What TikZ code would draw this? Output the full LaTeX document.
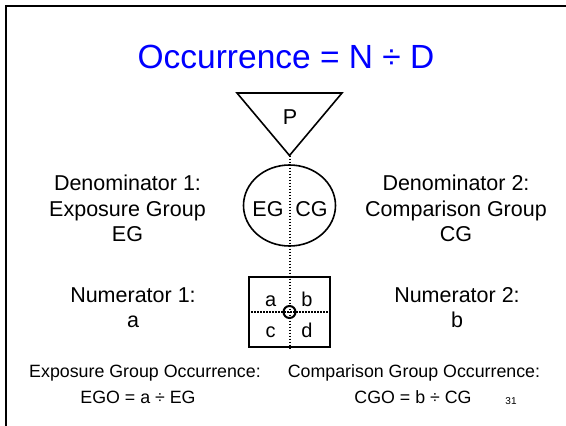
\documentclass[tikz,border=0pt]{standalone}
\usepackage{fontspec}
\setmainfont{Liberation Sans}
\usetikzlibrary{shapes.geometric}
\definecolor{titleblue}{RGB}{0,0,255}
\begin{document}
\begin{tikzpicture}[x=1pt,y=-1pt,
  shapeline/.style={draw=black,line width=1.6pt},
  dotline/.style={draw=black,line width=2pt,dash pattern=on 1.4pt off 1.6pt},
  sidetext/.style={inner sep=0pt,align=center,font=\fontsize{21.5}{25.5}\selectfont},
  celltext/.style={inner sep=0pt,anchor=base,font=\fontsize{20}{24}\selectfont},
  bottomtext/.style={inner sep=0pt,anchor=base,font=\fontsize{17.8}{21}\selectfont}]
\useasboundingbox (0,0) rectangle (566,426);
\clip (0,0) rectangle (566,426);
% frame
\draw[line width=2pt] (6,6) rectangle (580,440);
% title
\node[inner sep=0pt,anchor=base,text=titleblue,font=\fontsize{33.5}{40}\selectfont] (title) at (286,68.5) {Occurrence = N ÷ D};
% triangle
\coordinate (tl) at (237,93);
\coordinate (tr) at (342,93);
\coordinate (apex) at (289.5,155.5);
\draw[shapeline,line join=miter] (tl) -- (tr) -- (apex) -- cycle;
\node[inner sep=0pt,font=\fontsize{21.5}{25}\selectfont] (p) at (290,117.5) {P};
% ellipse
\node[ellipse,shapeline,minimum width=92pt,minimum height=81pt,inner sep=0pt] (ell) at (289.5,205.5) {};
\node[inner sep=0pt,anchor=base,font=\fontsize{21.5}{25}\selectfont] (eg) at (268,216.5) {EG};
\node[inner sep=0pt,anchor=base,font=\fontsize{21.5}{25}\selectfont] (cg) at (311.5,216.5) {CG};
% box
\node[rectangle,draw=black,line width=1.5pt,minimum width=81pt,minimum height=70pt,inner sep=0pt] (box) at (289.5,312) {};
\node[celltext] (ca) at (270.7,306.5) {a};
\node[celltext] (cb) at (307,306.5) {b};
\node[celltext] (cc) at (270.7,337.5) {c};
\node[celltext] (cd) at (307,337.5) {d};
% dotted lines
\draw[dotline] (apex) -- (box.south);
\draw[dotline] (box.west) -- (box.east);
\node[circle,draw=black,line width=2pt,minimum size=12pt,inner sep=0pt] (ctr) at (289.5,312) {};
% side texts
\node[sidetext] (den1) at (127.5,208.5) {Denominator 1:\\Exposure Group\\EG};
\node[sidetext] (den2) at (456,208.5) {Denominator 2:\\Comparison Group\\CG};
\node[sidetext] (num1) at (133,307.5) {Numerator 1:\\a};
\node[sidetext] (num2) at (457,307.5) {Numerator 2:\\b};
% bottom texts
\node[bottomtext] (ego1) at (145,377.5) {Exposure Group Occurrence:};
\node[bottomtext] (ego2) at (138,403) {EGO = a ÷ EG};
\node[bottomtext] (cgo1) at (414,377.5) {Comparison Group Occurrence:};
\node[bottomtext] (cgo2) at (413,403) {CGO = b ÷ CG};
\node[inner sep=0pt,anchor=base,font=\fontsize{10}{12}\selectfont] (pg) at (511,404) {31};
\end{tikzpicture}
\end{document}
